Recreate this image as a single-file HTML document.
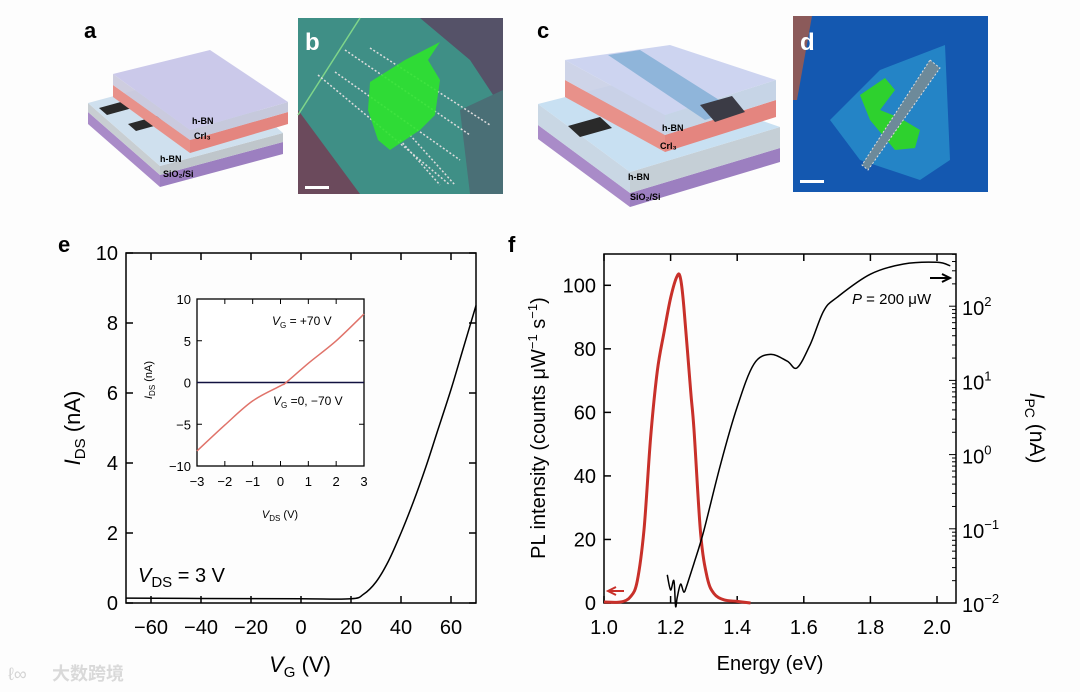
<!DOCTYPE html>
<html><head><meta charset="utf-8">
<style>
html,body{margin:0;padding:0;background:#fff;}
svg{display:block;font-family:"Liberation Sans","Noto Sans CJK SC",sans-serif;}
</style></head>
<body>
<svg id="fig" width="1080" height="692" viewBox="0 0 1080 692" xmlns="http://www.w3.org/2000/svg">
<rect width="1080" height="692" fill="#fdfdfd"/>
<!-- panel a -->
<g>
<text x="84" y="38" font-size="22" font-weight="bold">a</text>
<polygon points="88,112 160,175 160,187 88,124" fill="#a98bc8"/>
<polygon points="160,175 283,142 283,154 160,187" fill="#9c7fc0"/>
<polygon points="88,103 160,166 160,175 88,112" fill="#c8ced2"/>
<polygon points="160,166 283,133 283,142 160,175" fill="#bfc6cb"/>
<polygon points="88,103 211,70 283,133 160,166" fill="#cfe0ee"/>
<polygon points="99,108 128,100 136,107 107,115" fill="#2a2a2a"/>
<polygon points="128,124 157,116 165,123 136,131" fill="#2a2a2a"/>
<polygon points="113,85 190,140 190,153 113,97" fill="#e8918a"/>
<polygon points="190,140 288,112 288,124 190,153" fill="#e4857f"/>
<polygon points="113,74 190,130 190,140 113,85" fill="#c9c8dc" opacity="0.9"/>
<polygon points="190,130 288,102 288,112 190,140" fill="#c6c9dc"/>
<polygon points="113,74 210,50 288,102 190,130" fill="#cbc9ea"/>
<text x="192" y="124" font-size="9" font-weight="bold">h-BN</text>
<text x="194" y="139" font-size="9" font-weight="bold">CrI₃</text>
<text x="160" y="162" font-size="9" font-weight="bold">h-BN</text>
<text x="163" y="177" font-size="9" font-weight="bold">SiO₂/Si</text>
</g>
<!-- panel b -->
<g>
<rect x="298" y="18" width="205" height="176" fill="#3f8f86"/>
<polygon points="298,110 360,194 298,194" fill="#6b4a5c"/>
<polygon points="420,18 503,18 503,110 470,60" fill="#555268"/>
<polygon points="460,110 503,90 503,194 470,194" fill="#4a6f76"/>
<line x1="298" y1="115" x2="360" y2="18" stroke="#7fd58a" stroke-width="1.5"/>
<g stroke="#ddd" stroke-width="1.5" stroke-dasharray="2,2">
<line x1="345" y1="50" x2="470" y2="135"/><line x1="335" y1="72" x2="460" y2="160"/>
<line x1="318" y1="75" x2="450" y2="185"/><line x1="370" y1="48" x2="490" y2="125"/>
<line x1="400" y1="140" x2="440" y2="185"/><line x1="410" y1="135" x2="455" y2="185"/>
</g>
<path d="M370,82 L405,60 L440,42 L428,60 L440,80 L435,115 L420,130 L390,150 L378,140 L368,110 Z" fill="#2ee32e" opacity="0.9"/>
<text x="305" y="50" font-size="24" font-weight="bold" fill="#fff">b</text>
<rect x="305" y="186" width="24" height="3" fill="#fff"/>
</g>
<!-- panel c -->
<g>
<text x="537" y="38" font-size="22" font-weight="bold">c</text>
<polygon points="538,125 630,193 630,207 538,139" fill="#a98bc8"/>
<polygon points="630,193 780,148 780,162 630,207" fill="#9c7fc0"/>
<polygon points="538,104 630,172 630,193 538,125" fill="#c9d7e4"/>
<polygon points="630,172 780,127 780,148 630,193" fill="#c5cfd6"/>
<polygon points="538,104 640,78 780,127 630,172" fill="#c8e0f2"/>
<polygon points="568,126 600,117 612,128 580,137" fill="#2a2a2a"/>
<polygon points="565,80 665,135 665,152 565,97" fill="#e8918a"/>
<polygon points="665,135 776,100 776,117 665,152" fill="#e4857f"/>
<polygon points="565,60 665,115 665,135 565,80" fill="#c9cfe6" opacity="0.9"/>
<polygon points="665,115 776,80 776,100 665,135" fill="#c6d4e6"/>
<polygon points="565,60 670,45 776,80 665,115" fill="#cdd4f0"/>
<polygon points="608,55 640,50 735,110 705,120" fill="#8fb5da"/>
<polygon points="700,105 732,96 745,112 715,122" fill="#3b3b45"/>
<text x="662" y="131" font-size="9" font-weight="bold">h-BN</text>
<text x="660" y="149" font-size="9" font-weight="bold">CrI₃</text>
<text x="628" y="180" font-size="9" font-weight="bold">h-BN</text>
<text x="630" y="200" font-size="9" font-weight="bold">SiO₂/Si</text>
</g>
<!-- panel d -->
<g>
<rect x="793" y="16" width="195" height="176" fill="#1458b0"/>
<polygon points="793,16 812,16 797,100 793,100" fill="#8b5a5a"/>
<polygon points="830,120 880,70 945,45 950,160 920,180 860,160" fill="#2890cc" opacity="0.8"/>
<path d="M860,95 L885,78 L895,90 L880,110 L900,118 L920,130 L915,148 L895,150 L870,120 Z" fill="#2ed12e"/>
<polygon points="930,60 940,68 868,170 862,165" fill="#6d8a9a" stroke="#ddd" stroke-dasharray="2,2"/>
<text x="800" y="50" font-size="24" font-weight="bold" fill="#fff">d</text>
<rect x="800" y="180" width="24" height="3" fill="#fff"/>
</g>
<g id="chartE"></g>
<g id="chartF"></g>
<g opacity="0.35">
<text x="8" y="680" font-size="18" fill="#888">ℓ∞</text>
<text x="52" y="680" font-size="18" font-weight="bold" fill="#999">大数跨境</text>
</g>
</svg>
<script>
// ---------- Panel e data ----------
const eVg = [-70,-40,0,20,25,30,35,40,45,50,55,60,65,70];
const eIds = [0.14,0.13,0.12,0.12,0.25,0.6,1.2,2.0,2.9,3.9,5.0,6.1,7.3,8.5];
const eXTicks = [-60,-40,-20,0,20,40,60];
const eYTicks = [0,2,4,6,8,10];
const insVds = [-3,-2,-1,0,0.2,1,2,3];
const insRed = [-8.2,-5.1,-2.2,-0.4,0,2.3,5.0,8.2];
const insBlackV = [-3,3];
const insBlack = [0,0];
const insXTicks = [-3,-2,-1,0,1,2,3];
const insYTicks = [-10,-5,0,5,10];
// ---------- Panel f data ----------
const plE = [1.0,1.05,1.08,1.10,1.12,1.14,1.16,1.18,1.20,1.22,1.23,1.24,1.26,1.27,1.29,1.31,1.33,1.36,1.40,1.44];
const plI = [0.3,0.3,2,7,23,52,73,85,96,103,102,93,67,55,22,8,3,1,0.5,0];
const pcE = [1.19,1.20,1.21,1.215,1.22,1.23,1.24,1.25,1.27,1.30,1.35,1.40,1.45,1.50,1.55,1.58,1.62,1.66,1.70,1.80,1.90,2.00,2.04];
const pcI = [0.024,0.015,0.02,0.009,0.012,0.018,0.014,0.018,0.034,0.095,0.74,4.4,16.6,22.4,18.2,14.8,31,87,132,270,370,390,350];
const fXTicks = [1.0,1.2,1.4,1.6,1.8,2.0];
const fYTicks = [0,20,40,60,80,100];
const fLogTicks = [-2,-1,0,1,2];

const NS='http://www.w3.org/2000/svg';
function mk(parent,tag,attrs,name){const el=document.createElementNS(NS,tag);for(const k in attrs)el.setAttribute(k,attrs[k]);parent.appendChild(el);


return el;}
function txt(parent,x,y,s,size,anchor,name,extra){const t=mk(parent,'text',Object.assign({x:x,y:y,'font-size':size,'text-anchor':anchor||'middle'},extra||{}),name);t.innerHTML=s;return t;}
function fmt(v){return v<0?'\u2212'+(-v):String(v);}
function path(xs,ys,X,Y){return xs.map((v,i)=>(i?'L':'M')+X(v).toFixed(1)+','+Y(ys[i]).toFixed(1)).join(' ');}
function smooth(xs,ys,X,Y){const p=xs.map((v,i)=>[X(v),Y(ys[i])]);let d='M'+p[0][0]+','+p[0][1];for(let i=0;i<p.length-1;i++){const p0=p[i-1]||p[i],p1=p[i],p2=p[i+1],p3=p[i+2]||p2;const c1=[p1[0]+(p2[0]-p0[0])/6,p1[1]+(p2[1]-p0[1])/6],c2=[p2[0]-(p3[0]-p1[0])/6,p2[1]-(p3[1]-p1[1])/6];d+=` C${c1[0].toFixed(1)},${c1[1].toFixed(1)} ${c2[0].toFixed(1)},${c2[1].toFixed(1)} ${p2[0].toFixed(1)},${p2[1].toFixed(1)}`;}return d;}

// ----- Chart E -----
(function(){
const g=document.getElementById('chartE');
const L=126,R=476,T=253,B=603;
const X=v=>L+(v+70)/140*(R-L), Y=v=>B-v/10*(B-T);
txt(g,58,252,'e',22,'start','panel-label-e',{'font-weight':'bold'});
mk(g,'rect',{x:L,y:T,width:R-L,height:B-T,fill:'none',stroke:'#000','stroke-width':1.5},'plot-frame-e');
eXTicks.forEach(v=>{mk(g,'line',{x1:X(v),x2:X(v),y1:B,y2:B-7,stroke:'#000','stroke-width':1.5},'x-tick-e');mk(g,'line',{x1:X(v),x2:X(v),y1:T,y2:T+7,stroke:'#000','stroke-width':1.5},'x-tick-e-top');txt(g,X(v),634,fmt(v),20,'middle','x-tick-label-e');});
eYTicks.forEach(v=>{mk(g,'line',{x1:L,x2:L+7,y1:Y(v),y2:Y(v),stroke:'#000','stroke-width':1.5},'y-tick-e');mk(g,'line',{x1:R,x2:R-7,y1:Y(v),y2:Y(v),stroke:'#000','stroke-width':1.5},'y-tick-e-right');txt(g,118,Y(v)+7,v,20,'end','y-tick-label-e');});
txt(g,300,672,'<tspan font-style="italic">V</tspan><tspan font-size="15" dy="5">G</tspan><tspan dy="-5"> (V)</tspan>',22,'middle','x-axis-title-e');
txt(g,0,0,'<tspan font-style="italic">I</tspan><tspan font-size="15" dy="5">DS</tspan><tspan dy="-5"> (nA)</tspan>',22,'middle','y-axis-title-e',{transform:'translate(80,428) rotate(-90)'});
txt(g,138,582,'<tspan font-style="italic">V</tspan><tspan font-size="15" dy="5">DS</tspan><tspan dy="-5"> = 3 V</tspan>',20,'start','vds-annotation');
mk(g,'path',{d:smooth(eVg,eIds,X,Y),fill:'none',stroke:'#000','stroke-width':1.5},'ids-vg-curve');
// inset
const il=197,ir=364,it=299,ib=466;
const IX=v=>il+(v+3)/6*(ir-il), IY=v=>ib-(v+10)/20*(ib-it);
mk(g,'rect',{x:il,y:it,width:ir-il,height:ib-it,fill:'#fff',stroke:'#000','stroke-width':1.3},'inset-frame');
insXTicks.forEach(v=>{mk(g,'line',{x1:IX(v),x2:IX(v),y1:ib,y2:ib-5,stroke:'#000'},'inset-x-tick');mk(g,'line',{x1:IX(v),x2:IX(v),y1:it,y2:it+5,stroke:'#000'},'inset-x-tick-top');txt(g,IX(v),486,fmt(v),13,'middle','inset-x-tick-label');});
insYTicks.forEach(v=>{mk(g,'line',{x1:il,x2:il+5,y1:IY(v),y2:IY(v),stroke:'#000'},'inset-y-tick');mk(g,'line',{x1:ir,x2:ir-5,y1:IY(v),y2:IY(v),stroke:'#000'},'inset-y-tick-right');txt(g,191,IY(v)+5,fmt(v),13,'end','inset-y-tick-label');});
txt(g,280,518,'<tspan font-style="italic">V</tspan><tspan font-size="8" dy="3">DS</tspan><tspan dy="-3"> (V)</tspan>',11,'middle','inset-x-axis-title');
txt(g,0,0,'<tspan font-style="italic">I</tspan><tspan font-size="8" dy="3">DS</tspan><tspan dy="-3"> (nA)</tspan>',11,'middle','inset-y-axis-title',{transform:'translate(152,380) rotate(-90)'});
mk(g,'path',{d:path(insBlackV,insBlack,IX,IY),fill:'none',stroke:'#111140','stroke-width':1.5},'inset-curve-vg-0-neg70');
mk(g,'path',{d:smooth(insVds,insRed,IX,IY),fill:'none',stroke:'#e0736a','stroke-width':1.5},'inset-curve-vg-pos70');
txt(g,272,325,'<tspan font-style="italic">V</tspan><tspan font-size="8" dy="3">G</tspan><tspan dy="-3"> = +70 V</tspan>',12,'start','inset-label-vg-pos70');
txt(g,273,405,'<tspan font-style="italic">V</tspan><tspan font-size="8" dy="3">G</tspan><tspan dy="-3"> =0, \u221270 V</tspan>',12,'start','inset-label-vg-0-neg70');
})();

// ----- Chart F -----
(function(){
const g=document.getElementById('chartF');
const L=604,R=956,T=254,B=603;
const X=v=>L+(v-1)*333, Y=v=>B-v*3.177, YL=v=>B-(Math.log10(v)+2)*74.2, YE=e=>B-(e+2)*74.2;
txt(g,508,252,'f',22,'start','panel-label-f',{'font-weight':'bold'});
mk(g,'rect',{x:L,y:T,width:R-L,height:B-T,fill:'none',stroke:'#000','stroke-width':1.5},'plot-frame-f');
fXTicks.forEach(v=>{mk(g,'line',{x1:X(v),x2:X(v),y1:B,y2:B-7,stroke:'#000','stroke-width':1.5},'x-tick-f');mk(g,'line',{x1:X(v),x2:X(v),y1:T,y2:T+7,stroke:'#000','stroke-width':1.5},'x-tick-f-top');txt(g,X(v),634,v.toFixed(1),20,'middle','x-tick-label-f');});
fYTicks.forEach(v=>{mk(g,'line',{x1:L,x2:L+7,y1:Y(v),y2:Y(v),stroke:'#000','stroke-width':1.5},'y-tick-f');txt(g,596,Y(v)+7,v,20,'end','y-tick-label-f');});
for(let e=-2;e<3;e++){for(let m=1;m<10;m++){const y=B-(e+2+Math.log10(m))*74.2;if(y<T)break;mk(g,'line',{x1:R,x2:R-(m==1?7:4),y1:y,y2:y,stroke:'#000','stroke-width':1},'y-minor-tick-right');}}
fLogTicks.forEach(e=>{txt(g,962,YE(e)+9,'10<tspan font-size="13" dy="-9">'+fmt(e)+'</tspan>',20,'start','y-right-tick-label');});
txt(g,770,670,'Energy (eV)',20,'middle','x-axis-title-f');
txt(g,0,0,'PL intensity (counts \u03bcW<tspan font-size="13" dy="-8">\u22121</tspan><tspan dy="8"> s</tspan><tspan font-size="13" dy="-8">\u22121</tspan><tspan dy="8">)</tspan>',20,'middle','y-axis-title-f',{transform:'translate(545,428) rotate(-90)'});
txt(g,0,0,'<tspan font-style="italic">I</tspan><tspan font-size="14" dy="5">PC</tspan><tspan dy="-5"> (nA)</tspan>',21,'middle','y-right-axis-title-f',{transform:'translate(1030,428) rotate(90)'});
mk(g,'path',{d:smooth(plE,plI,X,Y),fill:'none',stroke:'#c8302a','stroke-width':3},'pl-spectrum');
mk(g,'path',{d:smooth(pcE,pcI,X,YL),fill:'none',stroke:'#000','stroke-width':1.5},'photocurrent-spectrum');
mk(g,'path',{d:'M624,591 L610,591 M616,587 L608,591 L616,595',fill:'none',stroke:'#c8302a','stroke-width':2},'pl-axis-arrow');
mk(g,'path',{d:'M930,278 L948,278 M942,274 L950,278 L942,282',fill:'none',stroke:'#000','stroke-width':2},'pc-axis-arrow');
txt(g,852,304,'<tspan font-style="italic">P</tspan> = 200 \u03bcW',15,'start','power-annotation');
})();
</script>
</body></html>
